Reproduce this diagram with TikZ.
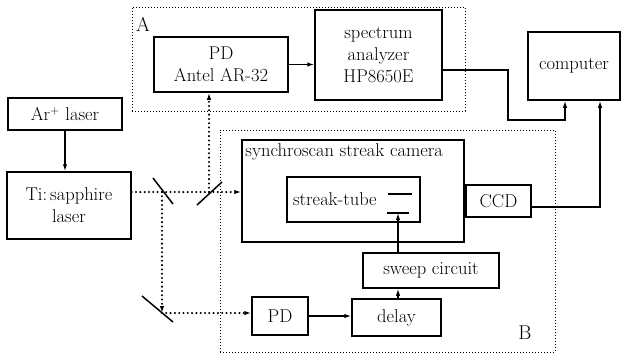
\documentclass[tikz,border=0pt]{standalone}
\usepackage{tikz}
\usetikzlibrary{positioning,arrows.meta}
\tikzset{
  blk/.style={draw,line width=1.5pt,inner sep=2pt,align=center,
    font=\fontsize{18.5}{22}\selectfont},
  grp/.style={draw,line width=1pt,dash pattern=on 1pt off 2pt},
  wire/.style={line width=1.3pt,-{Latex[length=7pt,width=4.5pt]}},
  plain/.style={line width=1.3pt},
  beam/.style={line width=2.3pt,line cap=round,dash pattern=on 0pt off 4.3pt,
    -{Latex[length=7pt,width=4.5pt]}},
  mirror/.style={line width=1.5pt},
  tag/.style={font=\fontsize{20}{23}\selectfont},
}
\begin{document}
\begin{tikzpicture}[x=1pt,y=-1pt]
  \useasboundingbox (0,0) rectangle (623,360);
  % groups A and B
  \node[grp,minimum width=333pt,minimum height=104pt] (grpA) at (298.5,59) {};
  \node[grp,minimum width=335pt,minimum height=222pt] (grpB) at (387.5,241) {};
  \node[tag] (labA) at (143,24) {A};
  \node[tag] (labB) at (525,333) {B};
  % blocks
  \node[blk,minimum width=134pt,minimum height=55pt] (pdA) at (221,64.5) {PD\\Antel AR-32};
  \node[blk,minimum width=127pt,minimum height=90pt] (spec) at (378.5,55) {spectrum\\analyzer\\HP8650E};
  \node[blk,minimum width=92pt,minimum height=68pt] (comp) at (574,66) {computer};
  \node[blk,minimum width=114pt,minimum height=32pt] (ar) at (65,114) {Ar$^{+}$ laser};
  \node[blk,minimum width=124pt,minimum height=67pt] (ti) at (69,205.5) {Ti:\,sapphire\\laser};
  \node[blk,minimum width=222pt,minimum height=102pt] (cam) at (353,191) {};
  \node[anchor=north west,inner sep=4pt,font=\fontsize{18.5}{22}\selectfont] (camlab) at (cam.north west) {synchroscan streak camera};
  \node[blk,minimum width=133pt,minimum height=45pt,text width=121pt,align=left,inner xsep=6pt] (tube) at (353.5,199.5) {streak-tube};
  \node[blk,minimum width=65pt,minimum height=32pt] (ccd) at (498.5,201) {CCD};
  \node[blk,minimum width=136pt,minimum height=35pt] (sweep) at (431,270.5) {sweep circuit};
  \node[blk,minimum width=89pt,minimum height=37pt] (delay) at (396.5,317.5) {delay};
  \node[blk,minimum width=56pt,minimum height=38pt] (pdB) at (280,316) {PD};
  % electrodes of the tube
  \coordinate (ehi) at (400,194);
  \coordinate (elo) at (398,213);
  \draw[plain] ([xshift=-12pt]ehi) -- ([xshift=12pt]ehi);
  \draw[plain] ([xshift=-11pt]elo) -- ([xshift=11pt]elo);
  % optics
  \coordinate (m1) at (162,192);
  \coordinate (m2) at (209,192);
  \coordinate (m3) at (162,313);
  \draw[mirror] ([shift={(-9,-14)}]m1) -- ([shift={(11,12)}]m1);
  \draw[mirror] ([shift={(-12,13)}]m2) -- ([shift={(13,-10)}]m2);
  \draw[mirror] ([shift={(-20,-17)}]m3) -- ([shift={(11,9)}]m3);
  \draw[beam] (ti.east |- m1) -- (m1) -- (m2) -- (m2 -| cam.west);
  \draw[beam] (m2) -- (m2 |- pdA.south);
  \draw[beam] (m1) -- (m3);
  \draw[beam] (m3) -- (m3 -| pdB.west);
  % signals
  \draw[wire] (ar.south) -- (ar.south |- ti.north);
  \draw[wire] (pdA.east) -- (pdA.east -| spec.west);
  \coordinate (k1) at (508,120);
  \draw[wire] ([yshift=-15pt]spec.east) -| (k1) -| ([xshift=-9pt]comp.south);
  \draw[wire] ([yshift=-6pt]ccd.east) -| ([xshift=26pt]comp.south);
  \draw[wire] (pdB.east) -- (pdB.east -| delay.west);
  \draw[wire] (delay.north -| elo) -- (sweep.south -| elo);
  \draw[wire] (sweep.north -| elo) -- (elo);
\end{tikzpicture}
\end{document}
